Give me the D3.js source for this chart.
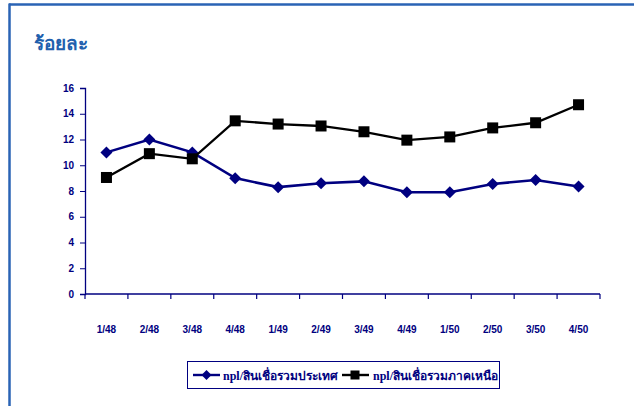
<!DOCTYPE html>
<html>
<head>
<meta charset="utf-8">
<script src="https://cdn.jsdelivr.net/npm/d3@7/dist/d3.min.js"></script>
<style>
  html, body { margin: 0; padding: 0; background: #fff; }
  svg { display: block; }
</style>
</head>
<body>
<svg id="chart" width="634" height="406"></svg>
<script>
// Quarterly periods (quarter/Thai year)
const categories = ["1/48", "2/48", "3/48", "4/48", "1/49", "2/49", "3/49", "4/49", "1/50", "2/50", "3/50", "4/50"];
// NPL share of total credit, whole country (%)
const countryValues = [11.0, 12.0, 11.0, 9.0, 8.3, 8.6, 8.75, 7.9, 7.9, 8.55, 8.85, 8.35];
// NPL share of total credit, northern region (%)
const northValues = [9.05, 10.9, 10.5, 13.45, 13.2, 13.05, 12.6, 11.95, 12.2, 12.9, 13.3, 14.7];
const yTicks = [0, 2, 4, 6, 8, 10, 12, 14, 16];
const seriesNames = ["npl/สินเชื่อรวมประเทศ", "npl/สินเชื่อรวมภาคเหนือ"];

const svg = d3.select("#chart");
const navy = "#000080";

// Frame lines on top and left
svg.append("line").attr("x1", 9).attr("x2", 634).attr("y1", 4.5).attr("y2", 4.5)
  .attr("stroke", "#2a63b5").attr("stroke-width", 2.5);
svg.append("line").attr("x1", 9.5).attr("x2", 9.5).attr("y1", 3.5).attr("y2", 406)
  .attr("stroke", "#2a63b5").attr("stroke-width", 2.5);

// Unit title
svg.append("text").attr("x", 34).attr("y", 50)
  .attr("font-family", "'Noto Sans', 'DejaVu Sans', sans-serif")
  .attr("font-weight", "bold").attr("font-size", 19)
  .attr("fill", "#2160ad").text("ร้อยละ");

const x = d3.scaleBand().domain(categories).range([85, 600]);
const y = d3.scaleLinear().domain([0, 16]).range([294, 88]);

const labelFont = "'Liberation Sans', Arial, sans-serif";

// Y axis
const yAxis = svg.append("g").attr("transform", "translate(85,0)")
  .call(d3.axisLeft(y).tickValues(yTicks).tickSize(5).tickPadding(6).tickFormat(d3.format("d")));
yAxis.select(".domain").attr("stroke", navy).attr("stroke-width", 1.3);
yAxis.selectAll(".tick line").attr("stroke", navy);
yAxis.selectAll("text").attr("font-family", labelFont).attr("font-weight", "bold")
  .attr("font-size", 10).attr("fill", navy);

// X axis (ticks between categories)
const xAxis = svg.append("g").attr("transform", "translate(0,294)");
xAxis.append("line").attr("x1", 85).attr("x2", 600).attr("y1", 0).attr("y2", 0)
  .attr("stroke", navy).attr("stroke-width", 1.3);
const edges = categories.map(c => x(c)).concat([x.range()[1]]);
xAxis.selectAll("line.tk").data(edges).enter().append("line").attr("class", "tk")
  .attr("x1", d => d).attr("x2", d => d).attr("y1", 0).attr("y2", 5)
  .attr("stroke", navy).attr("stroke-width", 1.2);
xAxis.selectAll("text").data(categories).enter().append("text")
  .attr("x", d => x(d) + x.bandwidth() / 2).attr("y", 39)
  .attr("text-anchor", "middle")
  .attr("font-family", labelFont).attr("font-weight", "bold")
  .attr("font-size", 10).attr("fill", navy).text(d => d);

const cx = d => x(d) + x.bandwidth() / 2;
const line = d3.line().x((d, i) => cx(categories[i])).y(d => y(d));

// Country series: navy line with diamonds
svg.append("path").datum(countryValues).attr("d", line)
  .attr("fill", "none").attr("stroke", navy).attr("stroke-width", 2.6);
const diamond = "M0,-6L6,0L0,6L-6,0Z";
svg.selectAll("path.dm").data(countryValues).enter().append("path").attr("class", "dm")
  .attr("d", diamond)
  .attr("transform", (d, i) => `translate(${cx(categories[i])},${y(d)})`)
  .attr("fill", navy);

// Northern region series: black line with squares
svg.append("path").datum(northValues).attr("d", line)
  .attr("fill", "none").attr("stroke", "#000").attr("stroke-width", 2.3);
svg.selectAll("rect.sq").data(northValues).enter().append("rect").attr("class", "sq")
  .attr("x", (d, i) => cx(categories[i]) - 5.5).attr("y", d => y(d) - 5.5)
  .attr("width", 11).attr("height", 11).attr("fill", "#000");

// Legend
const lg = svg.append("g");
lg.append("rect").attr("x", 187.5).attr("y", 361.5).attr("width", 312).attr("height", 27)
  .attr("fill", "#fff").attr("stroke", navy).attr("stroke-width", 1);
const legendFont = "'Liberation Serif', 'DejaVu Serif', serif";
// item 1
lg.append("line").attr("x1", 193).attr("x2", 220).attr("y1", 375).attr("y2", 375)
  .attr("stroke", navy).attr("stroke-width", 2.4);
lg.append("path").attr("d", "M0,-5L5,0L0,5L-5,0Z").attr("transform", "translate(206.5,375)").attr("fill", navy);
lg.append("text").attr("x", 223).attr("y", 379.5)
  .attr("font-family", legendFont).attr("font-weight", "bold").attr("font-size", 12)
  .attr("fill", navy).text(seriesNames[0]);
// item 2
lg.append("line").attr("x1", 342).attr("x2", 369).attr("y1", 375).attr("y2", 375)
  .attr("stroke", "#000").attr("stroke-width", 2.4);
lg.append("rect").attr("x", 350.5).attr("y", 370.5).attr("width", 9).attr("height", 9).attr("fill", "#000");
lg.append("text").attr("x", 373).attr("y", 379.5)
  .attr("font-family", legendFont).attr("font-weight", "bold").attr("font-size", 12)
  .attr("fill", navy).text(seriesNames[1]);
</script>
</body>
</html>
